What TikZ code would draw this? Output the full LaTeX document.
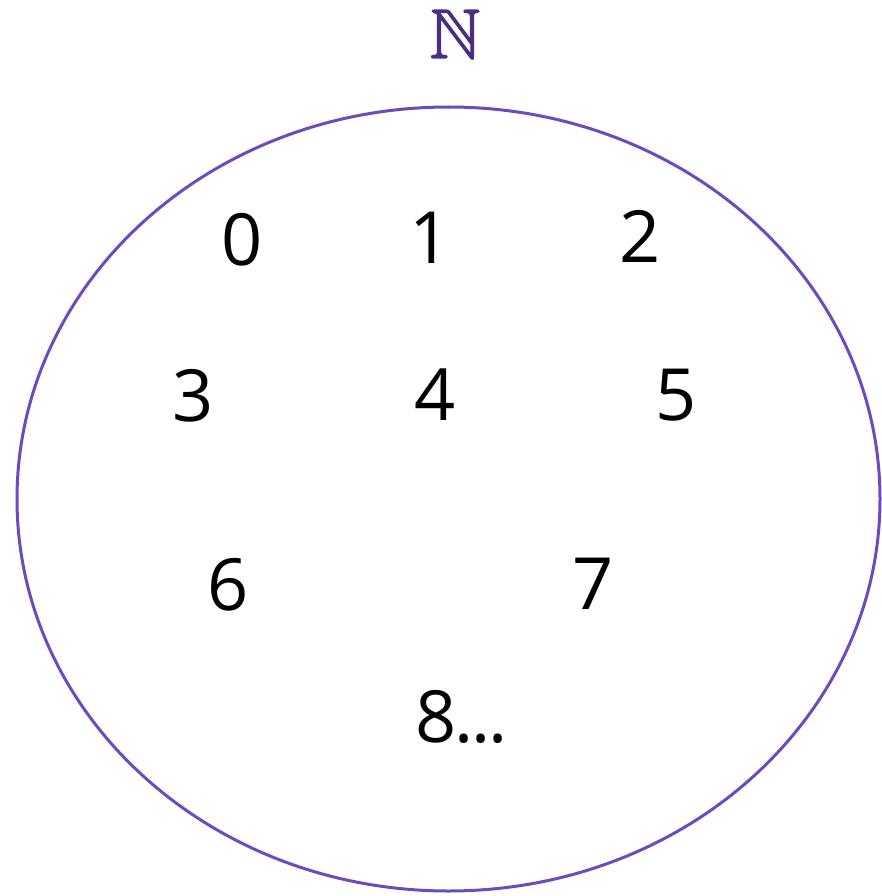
\documentclass[tikz,border=0pt]{standalone}
\usepackage{amssymb}
\usepackage{fontspec}
\setmainfont{Open Sans}
\definecolor{ellcol}{HTML}{6B4BBE}
\definecolor{ncol}{HTML}{4B2E83}
\newcommand{\boldish}[1]{\special{pdf:literal direct 2 Tr 1.2 w}#1\special{pdf:literal direct 0 Tr}}
\begin{document}
\begin{tikzpicture}[x=1pt,y=-1pt,
  num/.style={font=\fontsize{72}{80}\selectfont, text=black, inner sep=0pt, anchor=base}]
\useasboundingbox (0,0) rectangle (881,896);
\draw[ellcol, line width=3pt] (448.5,499) ellipse [x radius=431.5, y radius=392];
\node[inner sep=0pt, anchor=base, text=ncol, font=\fontsize{70}{80}\selectfont] (N) at (455,58) {\boldish{$\mathbb{N}$}};
\node[num] (n0) at (242,265) {0};
\node[num] (n1) at (430,263) {1};
\node[num] (n2) at (640,262) {2};
\node[num] (n3) at (193,421) {3};
\node[num] (n4) at (435,420) {4};
\node[num] (n5) at (676,420) {5};
\node[num] (n6) at (228,610) {6};
\node[num] (n7) at (593,609) {7};
\node[num, anchor=base west] (n8) at (415,742) {8\kern-2pt.\kern-2pt.\kern-2pt.};
\end{tikzpicture}
\end{document}
